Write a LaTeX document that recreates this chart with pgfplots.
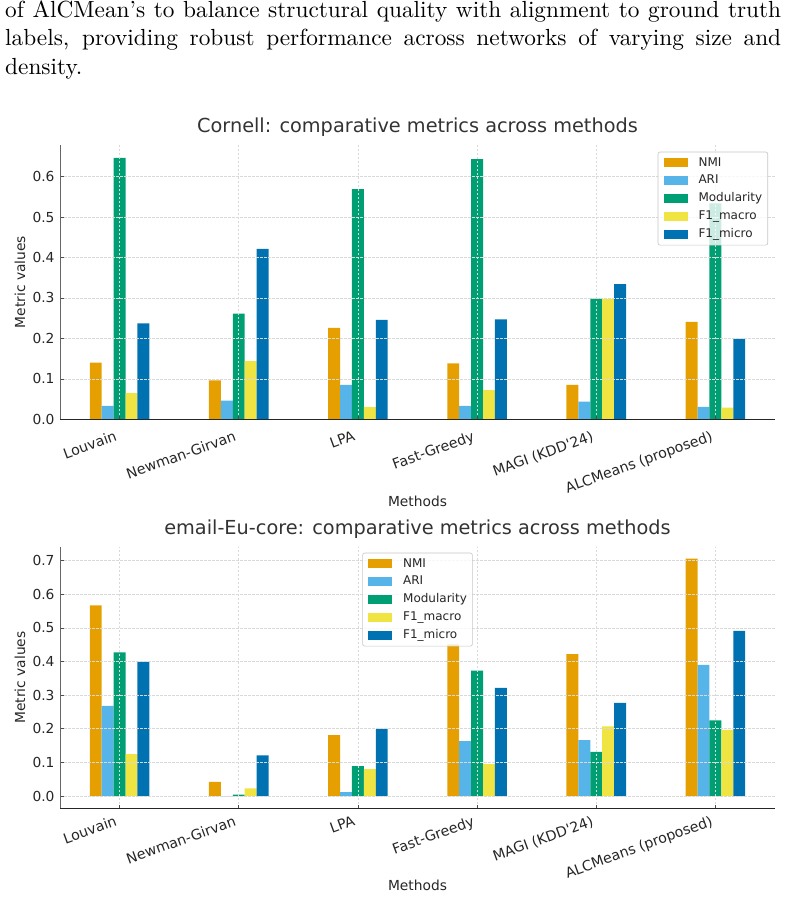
\documentclass[border=0pt]{standalone}
\usepackage{fontspec}
\usepackage{pgfplots}
\pgfplotsset{compat=1.18}
\usepackage{pgfplotstable}
\newfontfamily\djv{DejaVu Sans}
\newfontfamily\lmten[Extension=.otf, Ligatures=TeX]{lmroman10-regular}
\definecolor{cNMI}{HTML}{E69F00}
\definecolor{cARI}{HTML}{56B4E9}
\definecolor{cMod}{HTML}{009E73}
\definecolor{cFma}{HTML}{F0E442}
\definecolor{cFmi}{HTML}{0072B2}

\pgfplotstableread{
idx NMI ARI Mod Fma Fmi
0 0.140 0.033 0.646 0.065 0.237
1 0.096 0.046 0.261 0.144 0.421
2 0.226 0.085 0.569 0.030 0.246
3 0.138 0.033 0.643 0.072 0.247
4 0.085 0.044 0.298 0.297 0.334
5 0.241 0.031 0.534 0.029 0.199
}\cornell

\pgfplotstableread{
idx NMI ARI Mod Fma Fmi
0 0.567 0.268 0.427 0.125 0.399
1 0.042 -0.001 0.004 0.023 0.121
2 0.181 0.012 0.089 0.080 0.200
3 0.451 0.163 0.373 0.095 0.322
4 0.422 0.166 0.131 0.207 0.277
5 0.706 0.390 0.225 0.197 0.491
}\email

\pgfplotsset{mystyle/.style={
  scale only axis, width=715pt, xmin=-0.5, xmax=5.5,
  ybar, bar width=0.1,
  axis x line*=bottom, axis y line*=left,
  x axis line style={black!85, line width=1pt, -},
  y axis line style={black!60, line width=0.8pt, -},
  tick align=inside, major tick length=3.5pt,
  tick style={black!70, line width=0.6pt},
  xtick={0,...,5},
  xticklabels={Louvain,Newman-Girvan,LPA,Fast-Greedy,MAGI (KDD\textquotesingle24),ALCMeans (proposed)},
  grid=major,
  major grid style={gray!30, line width=0.6pt, dash pattern=on 2.5pt off 1.5pt},
  axis on top,
  /pgf/number format/assume math mode=true,
  yticklabel style={font=\djv\fontsize{13.8}{16}\selectfont, text=black!85, inner xsep=0pt, xshift=-5.3pt,
    /pgf/number format/.cd, fixed, fixed zerofill, precision=1},
  ylabel={Metric values},
  ylabel style={font=\djv\fontsize{13.8}{16}\selectfont, text=black!85, at={(axis description cs:-0.0559,0.5)}, anchor=center, rotate=0},
  xlabel={Methods},
  xlabel style={font=\djv\fontsize{13.8}{16}\selectfont, text=black!85, at={(axis description cs:0.5,0)}, anchor=base},
  title style={font=\djv\fontsize{19.3}{22}\selectfont, text=black!80, at={(axis description cs:0.5,1)}, anchor=base, yshift=6.5pt},
  legend cell align=left,
}}

\begin{document}
\begin{tikzpicture}
\path[use as bounding box] (0,0) rectangle (789pt,-897pt);
\node[anchor=base west, inner sep=0pt] at (5pt,-17.5pt) {\lmten\fontsize{23.3}{28.3}\selectfont\makebox[776pt][s]{of AlCMean's to balance structural quality with alignment to ground truth}};
\node[anchor=base west, inner sep=0pt] at (5pt,-45.8pt) {\lmten\fontsize{23.3}{28.3}\selectfont\makebox[776pt][s]{labels, providing robust performance across networks of varying size and}};
\node[anchor=base west, inner sep=0pt] at (5pt,-74.1pt) {\lmten\fontsize{23.3}{28.3}\selectfont density.};

\begin{axis}[mystyle,
  at={(60pt,-419.3pt)}, anchor=south west,
  height=274.3pt, ymin=0, ymax=0.678,
  ytick={0,0.1,...,0.6},
  title={Cornell: comparative metrics across methods},
  xticklabel style={font=\djv\fontsize{14.2}{16}\selectfont, text=black!85, inner sep=0pt, xshift=-5.5pt, yshift=-10.5pt, rotate=20, anchor=north east},
  xlabel style={yshift=-86.7pt},
  legend image code/.code={\fill[#1, fill opacity=1, sharp corners] (0pt,-4.35pt) rectangle (24pt,4.35pt);},
  legend style={at={(axis description cs:1,1)}, anchor=north east, xshift=-7pt, yshift=-6.7pt,
    draw=gray!45, line width=0.6pt, rounded corners=2pt, fill=white, fill opacity=0.8, text opacity=1, draw opacity=1,
    inner xsep=5.5pt, inner ysep=5pt, row sep=6.4pt, column sep=11pt,
    font=\djv\fontsize{12}{14}\selectfont, text=black!85,
    nodes={inner sep=0pt, text height=9pt, text depth=2.5pt}},
]
\addplot[fill=cNMI, draw=none, bar shift=-0.2] table[x=idx, y=NMI] {\cornell};
\addplot[fill=cARI, draw=none, bar shift=-0.1] table[x=idx, y=ARI] {\cornell};
\addplot[fill=cMod, draw=none, bar shift=0] table[x=idx, y=Mod] {\cornell};
\addplot[fill=cFma, draw=none, bar shift=0.1] table[x=idx, y=Fma] {\cornell};
\addplot[fill=cFmi, draw=none, bar shift=0.2] table[x=idx, y=Fmi] {\cornell};
\legend{NMI,ARI,Modularity,F1\_macro,F1\_micro}
\end{axis}

\begin{axis}[mystyle,
  at={(60pt,-808.3pt)}, anchor=south west,
  height=261.6pt, ymin=-0.0365, ymax=0.7415,
  ytick={0,0.1,...,0.7},
  title={email-Eu-core: comparative metrics across methods},
  xticklabel style={font=\djv\fontsize{14.2}{16}\selectfont, text=black!85, inner sep=0pt, xshift=-5.5pt, yshift=-6.5pt, rotate=20, anchor=north east},
  xlabel style={yshift=-81.7pt},
  legend image code/.code={\fill[#1, fill opacity=1, sharp corners] (0pt,-4.35pt) rectangle (24pt,4.35pt);},
  legend style={at={(axis description cs:0.5,1)}, anchor=north, yshift=-6pt,
    draw=gray!45, line width=0.6pt, rounded corners=2pt, fill=white, fill opacity=0.8, text opacity=1, draw opacity=1,
    inner xsep=5.5pt, inner ysep=5pt, row sep=6.4pt, column sep=11pt,
    font=\djv\fontsize{12}{14}\selectfont, text=black!85,
    nodes={inner sep=0pt, text height=9pt, text depth=2.5pt}},
]
\addplot[fill=cNMI, draw=none, bar shift=-0.2] table[x=idx, y=NMI] {\email};
\addplot[fill=cARI, draw=none, bar shift=-0.1] table[x=idx, y=ARI] {\email};
\addplot[fill=cMod, draw=none, bar shift=0] table[x=idx, y=Mod] {\email};
\addplot[fill=cFma, draw=none, bar shift=0.1] table[x=idx, y=Fma] {\email};
\addplot[fill=cFmi, draw=none, bar shift=0.2] table[x=idx, y=Fmi] {\email};
\legend{NMI,ARI,Modularity,F1\_macro,F1\_micro}
\end{axis}
\end{tikzpicture}
\end{document}
